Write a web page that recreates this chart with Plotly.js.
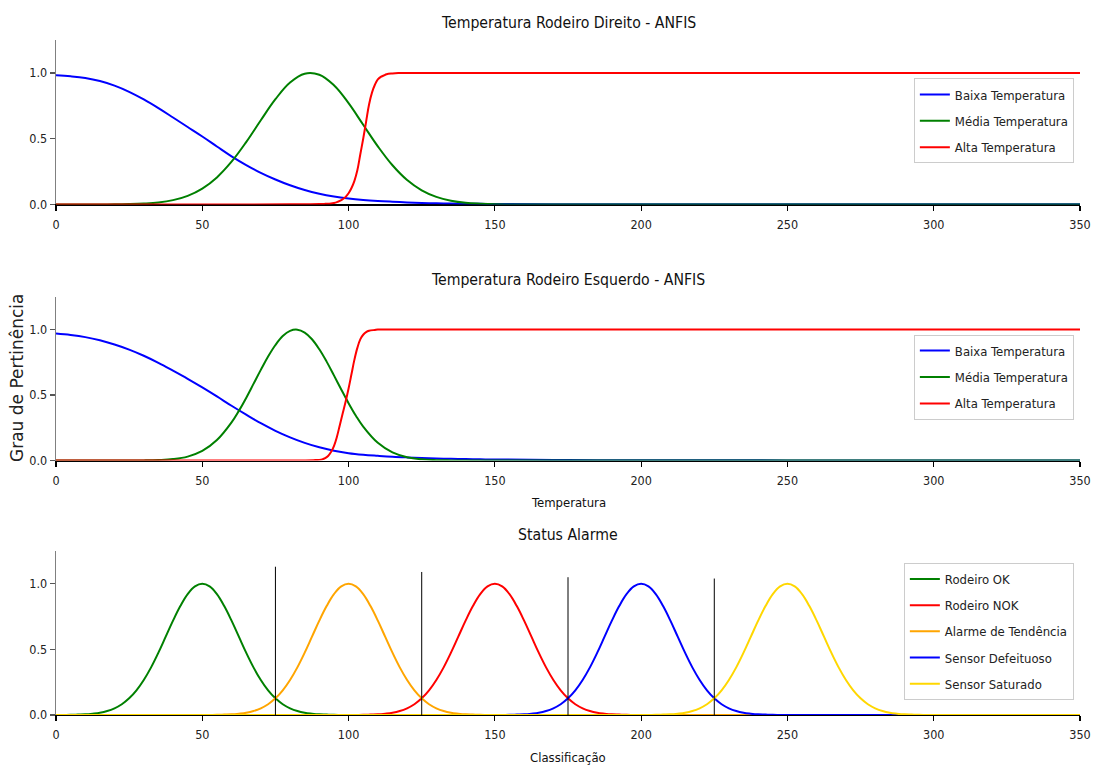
<!DOCTYPE html>
<html>
<head>
<meta charset="utf-8">
<script src="https://cdn.plot.ly/plotly-3.0.1.min.js"></script>
<style>html,body{margin:0;padding:0;background:#fff}</style>
</head>
<body>
<div id="chart" style="width:1093px;height:769px"></div>
<script>
// Temperature axis samples shared by the low membership curves
const tempX = [0,5,10,15,20,25,30,35,40,45,50,55,60,65,70,75,80,85,90,95,
  100,105,110,115,120,125,130,135,140,145,150,175,200,250,300,350];

// Right bearing (Direito)
const dirLow = [0.982,0.974,0.961,0.938,0.903,0.856,0.798,0.732,0.661,0.589,0.517,0.441,0.366,0.300,0.241,0.190,0.146,0.110,0.082,0.061,
  0.046,0.035,0.027,0.021,0.016,0.012,0.009,0.007,0.006,0.005,0.004,0.002,0.001,0.001,0.001,0.001];
const dirMid = [0,0,0,0,0.001,0.003,0.007,0.015,0.033,0.066,0.121,0.206,0.325,0.474,0.64,0.80,0.927,0.994,0.986,0.906,
  0.77,0.606,0.442,0.298,0.186,0.108,0.058,0.029,0.013,0.006,0.002,0,0,0,0,0];
const dirHighX = [0,50,80,90,92,94,95,96,97,98,99,100,101,102,103,104,105,106,107,108,109,110,111,112,113,115,117,120,150,200,250,300,350];
const dirHigh = [0,0,0.001,0.003,0.005,0.008,0.012,0.018,0.027,0.04,0.058,0.085,0.125,0.18,0.26,0.38,0.5,0.63,0.76,0.85,0.91,0.95,0.97,0.98,0.99,0.996,0.999,1,1,1,1,1,1];

// Left bearing (Esquerdo)
const esqLow = [0.969,0.958,0.942,0.918,0.886,0.847,0.800,0.746,0.686,0.624,0.558,0.489,0.418,0.350,0.285,0.227,0.177,0.135,0.101,0.075,
  0.056,0.044,0.036,0.029,0.024,0.020,0.016,0.013,0.011,0.009,0.008,0.004,0.002,0.001,0.001,0.001];
const esqMidX = [0,25,30,35,40,45,50,55,60,62.5,65,67.5,70,72.5,75,77.5,80,82.5,85,87.5,90,92.5,95,97.5,100,102.5,105,
  110,115,120,125,130,135,140,350];
const esqMid = [0,0,0.001,0.004,0.011,0.03,0.073,0.156,0.291,0.379,0.478,0.585,0.692,0.794,0.882,0.95,0.99,0.999,0.977,0.926,0.849,0.755,0.65,0.542,0.438,0.342,0.259,
  0.135,0.062,0.025,0.009,0.003,0.001,0,0];
const esqHighX = [0,50,80,88,90,91,92,93,94,95,96,97,98,99,100,101,102,103,104,105,106,107,109,110,120,150,200,250,300,350];
const esqHigh = [0,0,0.001,0.003,0.005,0.009,0.018,0.035,0.065,0.11,0.18,0.27,0.36,0.45,0.55,0.66,0.77,0.86,0.925,0.96,0.98,0.99,0.997,1,1,1,1,1,1,1];

// Alarm classification: each class is sampled across its own bump, with the ends of the axis
const okX = [0,2.5,5,7.5,10,12.5,15,17.5,20,22.5,25,27.5,30,32.5,35,37.5,40,42.5,45,47.5,
  50,52.5,55,57.5,60,62.5,65,67.5,70,72.5,75,77.5,80,82.5,85,87.5,90,92.5,95,97.5,100,350];
const okY = [0,0.0006,0.001,0.003,0.005,0.01,0.017,0.03,0.051,0.082,0.127,0.188,0.267,0.363,0.475,0.597,0.719,0.83,0.921,0.98,
  1,0.98,0.921,0.83,0.719,0.597,0.475,0.363,0.267,0.188,0.127,0.082,0.051,0.03,0.017,0.01,0.005,0.003,0.001,0.0006,0,0];

const trendX = [0,50,52.5,55,57.5,60,62.5,65,67.5,70,72.5,75,77.5,80,82.5,85,87.5,90,92.5,95,97.5,
  100,102.5,105,107.5,110,112.5,115,117.5,120,122.5,125,127.5,130,132.5,135,137.5,140,142.5,145,147.5,150,350];
const trendY = [0,0,0.0006,0.001,0.003,0.005,0.01,0.017,0.03,0.051,0.082,0.127,0.188,0.267,0.363,0.475,0.597,0.719,0.83,0.921,0.98,
  1,0.98,0.921,0.83,0.719,0.597,0.475,0.363,0.267,0.188,0.127,0.082,0.051,0.03,0.017,0.01,0.005,0.003,0.001,0.0006,0,0];

const nokX = [0,100,102.5,105,107.5,110,112.5,115,117.5,120,122.5,125,127.5,130,132.5,135,137.5,140,142.5,145,147.5,
  150,152.5,155,157.5,160,162.5,165,167.5,170,172.5,175,177.5,180,182.5,185,187.5,190,192.5,195,197.5,200,350];
const nokY = [0,0,0.0006,0.001,0.003,0.005,0.01,0.017,0.03,0.051,0.082,0.127,0.188,0.267,0.363,0.475,0.597,0.719,0.83,0.921,0.98,
  1,0.98,0.921,0.83,0.719,0.597,0.475,0.363,0.267,0.188,0.127,0.082,0.051,0.03,0.017,0.01,0.005,0.003,0.001,0.0006,0,0];

const faultX = [0,150,152.5,155,157.5,160,162.5,165,167.5,170,172.5,175,177.5,180,182.5,185,187.5,190,192.5,195,197.5,
  200,202.5,205,207.5,210,212.5,215,217.5,220,222.5,225,227.5,230,232.5,235,237.5,240,242.5,245,247.5,250,350];
const faultY = [0,0,0.0006,0.001,0.003,0.005,0.01,0.017,0.03,0.051,0.082,0.127,0.188,0.267,0.363,0.475,0.597,0.719,0.83,0.921,0.98,
  1,0.98,0.921,0.83,0.719,0.597,0.475,0.363,0.267,0.188,0.127,0.082,0.051,0.03,0.017,0.01,0.005,0.003,0.001,0.0006,0,0];

const satX = [0,200,202.5,205,207.5,210,212.5,215,217.5,220,222.5,225,227.5,230,232.5,235,237.5,240,242.5,245,247.5,
  250,252.5,255,257.5,260,262.5,265,267.5,270,272.5,275,277.5,280,282.5,285,287.5,290,292.5,295,297.5,300,350];
const satY = [0,0,0.0006,0.001,0.003,0.005,0.01,0.017,0.03,0.051,0.082,0.127,0.188,0.267,0.363,0.475,0.597,0.719,0.83,0.921,0.98,
  1,0.98,0.921,0.83,0.719,0.597,0.475,0.363,0.267,0.188,0.127,0.082,0.051,0.03,0.017,0.01,0.005,0.003,0.001,0.0006,0,0];

// Class boundaries and the height of each marker line
const limitX = [75,125,175,225];
const limitTop = [1.13,1.09,1.05,1.04];

const xTicks = [0,50,100,150,200,250,300,350];
const yTicks = [0,0.5,1];

const FONT = '"DejaVu Sans Condensed", "DejaVu Sans", sans-serif';
const C = {blue:'#0000ff', green:'#008000', red:'#ff0000', orange:'#ffa500', gold:'#ffd700'};

function curve(x, y, name, color, xa, ya, legend) {
  return {x, y, name, type:'scatter', mode:'lines',
    line:{color, width:2, shape:'spline', smoothing:1.1},
    xaxis:xa, yaxis:ya, legend, legendgroup:name + xa, hoverinfo:'skip'};
}

const limitLineX = [], limitLineY = [];
limitX.forEach((v, i) => { limitLineX.push(v, v, null); limitLineY.push(0, limitTop[i], null); });

const data = [
  curve(tempX, dirLow, 'Baixa Temperatura', C.blue, 'x', 'y', 'legend'),
  curve(tempX, dirMid, 'Média Temperatura', C.green, 'x', 'y', 'legend'),
  curve(dirHighX, dirHigh, 'Alta Temperatura', C.red, 'x', 'y', 'legend'),
  curve(tempX, esqLow, 'Baixa Temperatura', C.blue, 'x2', 'y2', 'legend2'),
  curve(esqMidX, esqMid, 'Média Temperatura', C.green, 'x2', 'y2', 'legend2'),
  curve(esqHighX, esqHigh, 'Alta Temperatura', C.red, 'x2', 'y2', 'legend2'),
  curve(okX, okY, 'Rodeiro OK', C.green, 'x3', 'y3', 'legend3'),
  curve(nokX, nokY, 'Rodeiro NOK', C.red, 'x3', 'y3', 'legend3'),
  curve(trendX, trendY, 'Alarme de Tendência', C.orange, 'x3', 'y3', 'legend3'),
  curve(faultX, faultY, 'Sensor Defeituoso', C.blue, 'x3', 'y3', 'legend3'),
  curve(satX, satY, 'Sensor Saturado', C.gold, 'x3', 'y3', 'legend3'),
  {x:limitLineX, y:limitLineY, type:'scatter', mode:'lines', line:{color:'#000', width:1},
   xaxis:'x3', yaxis:'y3', showlegend:false, hoverinfo:'skip'}
];

const tickFont = {family:FONT, size:12.5, color:'#222'};
function xAxis(anchor) {
  return {anchor, domain:[0,1], range:[0,350], tickvals:xTicks, showgrid:false, zeroline:false,
    showline:true, linecolor:'#000', linewidth:1.3, ticks:'outside', ticklen:5, tickwidth:1.2,
    tickcolor:'#000', tickfont:tickFont, ticklabelstandoff:3, layer:'below traces', fixedrange:true};
}
function yAxis(anchor, domain) {
  return {anchor, domain, range:[0,1.25], tickvals:yTicks, tickformat:'.1f', showgrid:false, zeroline:false,
    showline:true, linecolor:'#808080', linewidth:1.3, ticks:'outside', ticklen:5, tickwidth:1.2,
    tickcolor:'#555', tickfont:tickFont, layer:'below traces', fixedrange:true};
}
function legendBox(y, gap) {
  return {x:0.994, xanchor:'right', y, yanchor:'top', xref:'paper', yref:'paper',
    bgcolor:'rgba(255,255,255,0.85)', bordercolor:'#cccccc', borderwidth:1,
    font:{family:FONT, size:13, color:'#222'}, tracegroupgap:gap, itemwidth:30, traceorder:'grouped'};
}
function label(text, x, y, size, extra) {
  return Object.assign({text, x, y, xref:'paper', yref:'paper', showarrow:false,
    xanchor:'center', yanchor:'middle', font:{family:FONT, size, color:'#111'}}, extra || {});
}

const layout = {
  width:1093, height:769,
  margin:{l:56, r:13, t:40, b:54},
  paper_bgcolor:'#fff', plot_bgcolor:'#fff',
  xaxis:xAxis('y'), yaxis:yAxis('x', [0.7563, 1.0]),
  xaxis2:xAxis('y2'), yaxis2:yAxis('x2', [0.3770, 0.6196]),
  xaxis3:xAxis('y3'), yaxis3:yAxis('x3', [0, 0.2430]),
  legend:legendBox(0.943, 6.5),
  legend2:legendBox(0.5635, 6.5),
  legend3:legendBox(0.2252, 6.3),
  annotations:[
    label('Temperatura Rodeiro Direito - ANFIS', 0.5, 1.0252, 15.7),
    label('Temperatura Rodeiro Esquerdo - ANFIS', 0.5, 0.6459, 15.7),
    label('Status Alarme', 0.5, 0.2667, 15.7),
    label('Temperatura', 0.5, 0.3141, 13),
    label('Classificação', 0.5, -0.0637, 13),
    label('Grau de Pertinência', -0.0381, 0.4993, 17,
      {textangle:-90, font:{family:'"DejaVu Sans", sans-serif', size:17, color:'#222'}})
  ]
};

Plotly.newPlot('chart', data, layout, {displayModeBar:false, staticPlot:true});
</script>
</body>
</html>
